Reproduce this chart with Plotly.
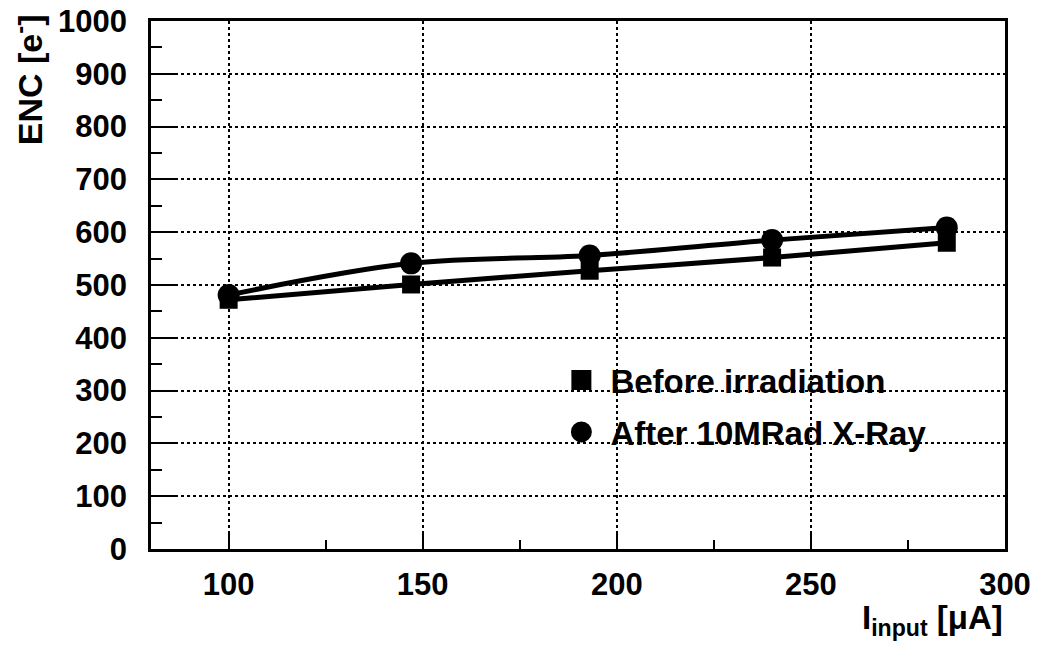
import plotly.graph_objects as go

current_ua = [100, 147, 193, 240, 285]
enc_before = [472, 501, 527, 552, 580]
enc_after = [481, 541, 556, 585, 609]

names = ["Before irradiation", "After 10MRad X-Ray"]
symbols = ["square", "circle"]

FONT = "Liberation Sans"

fig = go.Figure()
series = [enc_before, enc_after]
sizes = [18, 22]
for name, ys, sym, sz in zip(names, series, symbols, sizes):
    fig.add_trace(go.Scatter(
        x=current_ua, y=ys, mode="lines+markers",
        line=dict(color="black", width=5, shape="spline"),
        marker=dict(symbol=sym, size=sz, color="black"),
        showlegend=False, name=name,
    ))
# legend entries (markers only, like ROOT "p" option)
legend_outline = [4, 5]
for i, (name, sym, lw) in enumerate(zip(names, symbols, legend_outline)):
    fig.add_trace(go.Scatter(
        x=[None], y=[None], mode="markers",
        marker=dict(symbol=sym, size=16, color="black", line=dict(color="black", width=lw)),
        name=name, legendgroup=f"g{i}", showlegend=True,
    ))

axis_common = dict(
    showline=True, linecolor="black", linewidth=2.5, mirror=True,
    ticks="inside", tickcolor="black", tickwidth=2,
    showgrid=True, gridcolor="black", gridwidth=2, griddash="dot",
    zeroline=False, automargin=False, ticklabeloverflow="allow",
    tickfont=dict(family=FONT, size=31, color="black", weight="bold"),
)

fig.update_xaxes(
    range=[80, 300], tick0=0, dtick=50, ticklen=17,
    ticklabelstandoff=6,
    minor=dict(ticks="inside", dtick=25, tick0=0, ticklen=9, tickcolor="black", tickwidth=2, showgrid=False),
    **axis_common,
)
fig.update_yaxes(
    range=[0, 1000], tick0=0, dtick=100, ticklen=24,
    ticklabelstandoff=15,
    minor=dict(ticks="inside", dtick=50, tick0=0, ticklen=11, tickcolor="black", tickwidth=2, showgrid=False),
    **axis_common,
)

fig.add_annotation(
    text="ENC [e<sup>-</sup>]", xref="paper", yref="paper",
    x=-0.145, y=1.016, xanchor="center", yanchor="top", textangle=-90,
    showarrow=False, font=dict(family=FONT, size=34, color="black", weight="bold"),
)
fig.add_annotation(
    text="I<sub>input</sub> [μA]", xref="paper", yref="paper",
    x=1.0, y=-0.09, xanchor="right", yanchor="top",
    showarrow=False, font=dict(family=FONT, size=33, color="black", weight="bold"),
)

# page body has an 8px margin, so the figure is 8px smaller and margins shifted
fig.update_layout(
    width=1032, height=645,
    margin=dict(l=143, r=35, t=13, b=104),
    paper_bgcolor="white", plot_bgcolor="white",
    legend=dict(
        x=0.47, y=0.373, xanchor="left", yanchor="top",
        bgcolor="rgba(0,0,0,0)", borderwidth=0,
        font=dict(family=FONT, size=33, color="black", weight="bold"),
        traceorder="grouped", tracegroupgap=6, itemwidth=48,
    ),
)

fig.write_html("out.html")
